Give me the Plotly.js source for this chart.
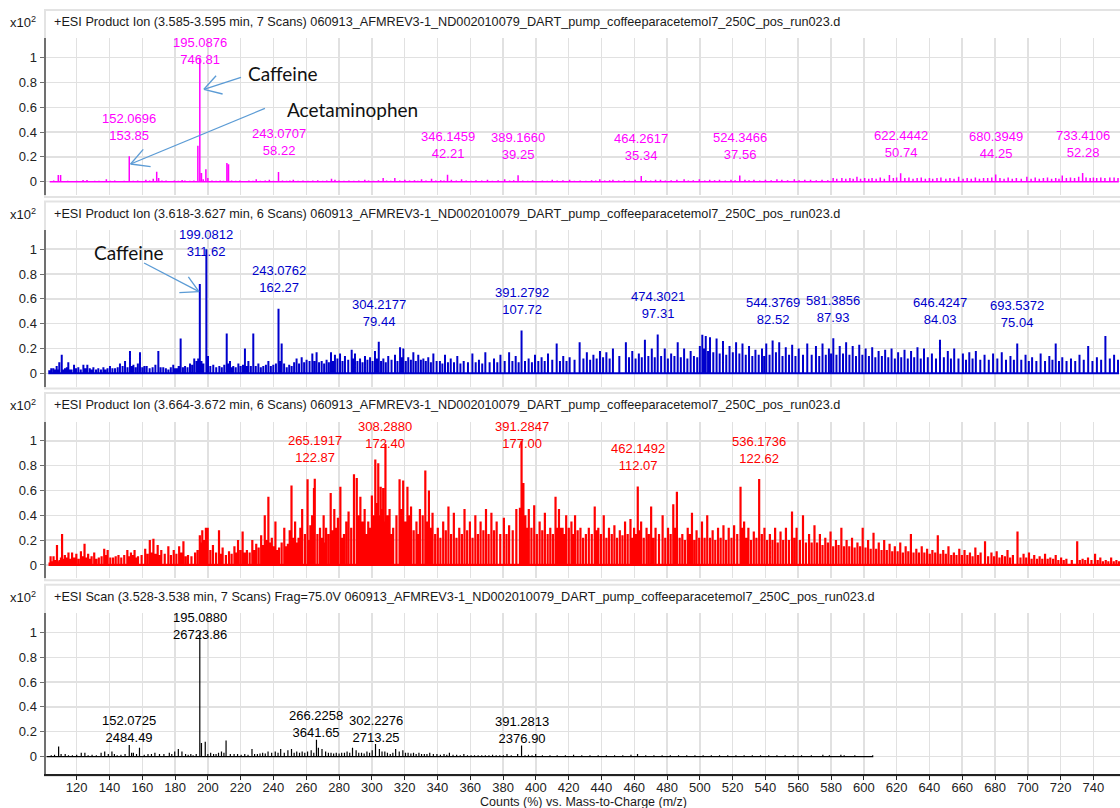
<!DOCTYPE html>
<html><head><meta charset="utf-8">
<script src="https://cdn.plot.ly/plotly-3.0.1.min.js"></script>
<style>html,body{margin:0;padding:0;background:#fff}#chart{width:1120px;height:808px}</style>
</head><body><div id="chart"></div>
<script>
// ---------------- DATA ----------------
const panelTitles = [
  "+ESI Product Ion (3.585-3.595 min, 7 Scans) 060913_AFMREV3-1_ND002010079_DART_pump_coffeeparacetemol7_250C_pos_run023.d",
  "+ESI Product Ion (3.618-3.627 min, 6 Scans) 060913_AFMREV3-1_ND002010079_DART_pump_coffeeparacetemol7_250C_pos_run023.d",
  "+ESI Product Ion (3.664-3.672 min, 6 Scans) 060913_AFMREV3-1_ND002010079_DART_pump_coffeeparacetemol7_250C_pos_run023.d",
  "+ESI Scan (3.528-3.538 min, 7 Scans) Frag=75.0V 060913_AFMREV3-1_ND002010079_DART_pump_coffeeparacetemol7_250C_pos_run023.d"
];
const yTickVals = [0, 0.2, 0.4, 0.6, 0.8, 1];
const yTickText = ["0", "0.2", "0.4", "0.6", "0.8", "1"];
const xAxisTitle = "Counts (%) vs. Mass-to-Charge (m/z)";
const scaleLabel = "x10<sup>2</sup>";

// peaks: [m/z, relative counts (x10^2 %)]
const p1Peaks = [[104.0,.005],[106.0,.01],[108.8,.054],[110.2,.054],[112.0,.005],[114.5,.008],[117.0,.005],[120.0,.008],[123.9,.013],[126.3,.013],[129.0,.005],[131.0,.008],[133.6,.008],[136.0,.005],[138.1,.02],[140.5,.008],[143.2,.01],[146.0,.005],[149.0,.008],[152.0696,.206],[154.5,.008],[157.2,.01],[159.5,.006],[162.2,.015],[164.5,.01],[166.7,.025],[168.8,.08],[170.0,.03],[172.0,.01],[174.5,.01],[177.0,.006],[179.6,.01],[182.0,.008],[184.3,.013],[186.0,.01],[189.0,.008],[191.5,.01],[193.9,.29],[195.0876,1.0],[196.1,.07],[197.2,.02],[198.8,.1],[200.0,.03],[202.5,.01],[205.0,.008],[207.5,.01],[209.5,.008],[211.6,.15],[212.6,.14],[214.5,.01],[217.0,.008],[219.5,.01],[222.0,.006],[225.0,.01],[227.5,.008],[229.5,.02],[232.0,.008],[235.0,.01],[237.5,.015],[240.0,.008],[243.0707,.078],[245.5,.01],[248.0,.008],[250.0,.01],[252.1,.015],[255.0,.008],[258.0,.01],[261.0,.008],[264.0,.01],[267.0,.012],[270.0,.008],[272.5,.01],[275.4,.025],[277.5,.015],[280.0,.01],[283.0,.008],[286.0,.01],[289.0,.008],[292.0,.01],[295.7,.015],[298.0,.01],[301.0,.008],[304.0,.012],[306.9,.03],[309.0,.01],[311.5,.008],[314.0,.03],[317.0,.01],[320.1,.015],[323.0,.01],[326.0,.012],[328.0,.008],[330.3,.02],[333.0,.01],[336.4,.025],[339.0,.01],[342.0,.012],[344.0,.01],[346.1459,.057],[348.5,.015],[351.5,.01],[354.7,.02],[357.5,.01],[360.5,.008],[363.5,.012],[367.0,.01],[370.5,.015],[373.5,.008],[377.0,.012],[381.0,.02],[384.0,.01],[386.5,.012],[389.1660,.053],[392.0,.01],[395.0,.008],[398.0,.012],[401.0,.006],[404.0,.01],[407.0,.008],[410.0,.015],[413.0,.01],[416.5,.012],[420.6,.015],[423.5,.008],[427.0,.01],[430.5,.008],[434.0,.012],[436.5,.01],[439.0,.02],[442.0,.01],[445.0,.012],[447.0,.015],[450.5,.01],[454.0,.012],[457.0,.008],[460.5,.015],[464.2617,.047],[467.0,.012],[470.0,.01],[473.0,.015],[476.0,.015],[479.0,.01],[482.5,.012],[486.0,.015],[490.4,.02],[493.0,.01],[496.0,.012],[499.7,.02],[503.0,.01],[506.0,.015],[509.0,.012],[512.0,.015],[515.5,.01],[519.0,.015],[521.5,.012],[524.3466,.05],[527.5,.015],[530.0,.012],[533.0,.015],[536.5,.01],[540.0,.015],[543.5,.012],[547.0,.02],[550.0,.015],[553.5,.012],[557.6,.02],[560.5,.012],[564.0,.015],[567.5,.015],[571.0,.012],[574.5,.015],[578.0,.012],[581.3,.03],[583.5,.025],[586.6,.03],[589.0,.025],[591.5,.03],[593.5,.025],[595.8,.04],[598.0,.025],[600.5,.03],[603.0,.025],[605.0,.03],[607.5,.025],[610.0,.035],[612.5,.025],[615.6,.055],[618.0,.03],[620.0,.035],[622.4442,.068],[625.0,.03],[627.5,.035],[630.0,.025],[632.5,.03],[635.0,.035],[637.5,.025],[640.0,.03],[642.0,.025],[644.6,.03],[647.0,.035],[650.0,.025],[652.5,.03],[655.0,.025],[657.8,.04],[660.5,.025],[663.0,.03],[665.5,.025],[668.0,.035],[670.5,.025],[673.0,.03],[675.5,.03],[678.0,.035],[680.3949,.059],[683.0,.03],[685.5,.025],[688.0,.035],[690.5,.025],[693.0,.03],[696.0,.025],[699.4,.04],[702.0,.025],[704.5,.035],[707.0,.025],[709.5,.03],[712.0,.035],[714.5,.025],[717.0,.03],[719.0,.025],[721.0,.05],[723.5,.03],[726.0,.035],[728.5,.03],[731.0,.04],[733.4106,.07],[735.5,.035],[738.0,.03],[740.0,.035],[742.0,.03],[744.5,.035],[747.0,.03],[750.0,.035],[752.6,.035],[755.0,.03]];

const p2Peaks = [[103.3,.025],[104.5,.04],[105.8,.04],[106.8,.03],[107.8,.06],[108.6,.03],[109.4,.09],[110.9,.15],[112.0,.03],[112.9,.04],[114.0,.05],[114.9,.09],[116.0,.03],[116.9,.03],[118.4,.07],[119.6,.04],[121.0,.05],[122.5,.03],[124.1,.07],[125.3,.04],[126.5,.07],[128.0,.04],[129.2,.03],[130.2,.05],[131.8,.03],[133.2,.04],[134.8,.03],[136.3,.05],[137.5,.03],[138.8,.04],[140.3,.06],[141.8,.04],[143.4,.04],[145.0,.05],[146.4,.08],[148.0,.06],[149.5,.10],[151.0,.05],[152.5,.18],[153.6,.06],[154.6,.07],[156.0,.05],[157.3,.08],[158.6,.17],[160.0,.05],[161.3,.06],[162.7,.06],[164.5,.04],[166.3,.05],[168.0,.07],[169.8,.18],[171.2,.05],[172.8,.05],[174.4,.04],[175.9,.03],[177.4,.05],[178.9,.07],[180.0,.04],[181.0,.04],[182.2,.06],[183.4,.28],[184.8,.05],[186.1,.06],[187.6,.05],[189.1,.08],[190.4,.07],[191.7,.12],[193.1,.10],[194.1,.12],[195.09,.72],[196.1,.10],[197.3,.08],[199.0812,1.0],[200.1,.14],[201.5,.06],[203.3,.07],[205.1,.05],[207.0,.06],[208.5,.05],[210.0,.07],[211.5,.32],[212.5,.08],[213.5,.10],[214.5,.05],[215.5,.06],[217.0,.05],[218.6,.08],[220.0,.06],[221.4,.07],[222.6,.20],[223.6,.06],[224.7,.10],[226.2,.06],[227.7,.32],[229.2,.06],[230.8,.08],[232.3,.05],[233.8,.06],[235.4,.07],[236.9,.10],[238.4,.06],[239.9,.07],[241.5,.08],[243.0762,.52],[244.0,.10],[245.0,.24],[246.5,.08],[248.1,.05],[249.6,.07],[251.1,.06],[252.6,.09],[254.1,.12],[255.6,.08],[257.2,.13],[258.7,.09],[260.2,.11],[262.0,.10],[263.7,.16],[265.0,.10],[266.3,.17],[267.8,.09],[269.4,.10],[270.9,.08],[272.4,.11],[273.8,.09],[275.1,.17],[276.3,.10],[277.5,.15],[279.0,.12],[280.6,.16],[282.1,.10],[283.6,.14],[285.6,.11],[287.7,.19],[288.7,.12],[289.7,.16],[291.2,.10],[292.8,.12],[294.3,.09],[295.8,.14],[297.3,.11],[298.9,.13],[300.4,.10],[301.9,.18],[303.0,.12],[304.2177,.255],[305.6,.10],[307.0,.12],[308.5,.09],[310.0,.14],[312.0,.11],[314.1,.15],[315.6,.10],[317.2,.21],[318.2,.13],[319.2,.20],[320.7,.10],[322.2,.13],[323.8,.11],[325.3,.17],[326.8,.10],[328.3,.15],[329.9,.11],[331.4,.12],[332.9,.10],[334.4,.13],[336.0,.09],[337.5,.16],[339.5,.10],[341.5,.10],[343.0,.08],[344.6,.15],[346.4,.09],[348.1,.12],[350.1,.09],[352.1,.14],[354.0,.08],[356.0,.10],[358.6,.09],[361.3,.16],[363.3,.09],[365.3,.11],[367.3,.08],[369.2,.17],[371.8,.09],[374.5,.12],[376.5,.09],[378.4,.15],[381.0,.10],[383.7,.17],[385.7,.10],[387.7,.14],[389.5,.09],[391.2792,.346],[393.4,.10],[395.6,.12],[397.6,.09],[399.5,.15],[401.5,.10],[403.5,.13],[405.4,.10],[407.4,.16],[410.0,.11],[412.7,.24],[414.7,.10],[416.7,.14],[418.7,.10],[420.6,.13],[423.6,.11],[426.7,.25],[429.0,.12],[431.1,.17],[433.1,.11],[435.1,.15],[437.1,.12],[439.1,.18],[441.0,.13],[443.0,.17],[445.0,.12],[447.0,.20],[450.9,.14],[454.9,.25],[456.8,.13],[458.8,.18],[460.8,.12],[462.8,.16],[464.6,.13],[466.5,.27],[468.6,.14],[470.7,.20],[472.5,.13],[474.3021,.312],[476.4,.14],[478.6,.20],[480.5,.12],[482.5,.16],[484.5,.14],[486.5,.25],[488.4,.13],[490.4,.20],[492.4,.12],[494.4,.18],[496.4,.14],[498.4,.13],[500.0,.22],[501.5,.31],[502.6,.20],[503.6,.30],[505.0,.18],[506.2,.29],[508.2,.17],[510.2,.28],[512.1,.16],[514.1,.26],[516.1,.15],[518.1,.22],[520.1,.17],[522.1,.25],[524.1,.16],[526.0,.24],[528.0,.15],[530.0,.22],[532.0,.14],[533.9,.19],[535.9,.15],[537.9,.20],[539.2,.14],[540.5,.24],[542.5,.15],[544.3769,.265],[546.4,.17],[548.4,.25],[550.4,.14],[552.4,.21],[554.4,.15],[556.3,.23],[558.3,.14],[560.3,.20],[562.9,.15],[565.5,.24],[568.2,.15],[570.8,.22],[572.8,.14],[574.8,.24],[576.8,.15],[578.7,.20],[580.0,.16],[581.3856,.282],[583.3,.15],[585.3,.22],[587.3,.16],[589.2,.25],[591.2,.15],[593.2,.22],[595.2,.14],[597.2,.23],[599.1,.15],[601.1,.20],[603.1,.14],[605.1,.21],[607.0,.13],[609.0,.18],[611.0,.14],[613.0,.19],[614.9,.13],[616.9,.20],[618.9,.12],[620.9,.17],[622.8,.13],[624.8,.19],[626.8,.12],[628.8,.18],[630.7,.13],[632.7,.21],[634.7,.12],[636.7,.20],[639.0,.13],[641.5,.16],[644.0,.12],[646.4247,.27],[648.8,.13],[651.2,.18],[653.1,.12],[655.1,.20],[657.7,.12],[660.4,.16],[662.3,.11],[664.3,.17],[666.3,.12],[668.3,.18],[671.0,.11],[673.6,.15],[676.2,.11],[678.8,.16],[681.4,.12],[684.1,.17],[686.7,.11],[689.4,.14],[691.5,.11],[693.5372,.241],[696.0,.11],[698.6,.15],[700.6,.10],[702.6,.13],[705.2,.10],[707.8,.16],[710.5,.10],[713.1,.14],[715.0,.11],[717.0,.24],[719.0,.10],[721.0,.13],[723.6,.10],[726.3,.12],[728.9,.10],[731.5,.15],[734.1,.11],[736.8,.22],[739.4,.10],[742.1,.13],[744.7,.11],[747.3,.30],[750.0,.12],[752.6,.15],[755.0,.11]];

const p3Peaks = [[103.5,.02],[104.1,.07],[105.0,.03],[105.9,.07],[107.0,.04],[108.0,.16],[109.0,.03],[109.6,.04],[110.4,.06],[111.1,.25],[112.0,.05],[112.8,.08],[114.0,.06],[115.0,.10],[116.2,.05],[117.2,.10],[118.5,.06],[119.8,.09],[121.2,.05],[122.6,.11],[123.7,.07],[124.8,.17],[126.0,.06],[127.0,.09],[128.1,.05],[129.1,.07],[130.7,.10],[132.0,.05],[133.5,.06],[135.2,.07],[136.8,.13],[137.8,.08],[138.9,.12],[140.5,.06],[142.2,.06],[143.8,.07],[145.5,.08],[147.2,.06],[149.0,.08],[150.9,.12],[152.0,.07],[153.1,.10],[154.2,.08],[155.3,.12],[156.4,.06],[157.4,.07],[159.6,.08],[161.8,.13],[163.2,.09],[164.6,.20],[165.7,.10],[166.8,.21],[168.1,.09],[169.4,.16],[170.5,.08],[171.6,.12],[173.7,.09],[175.9,.15],[177.5,.08],[179.2,.12],[180.8,.09],[182.5,.15],[183.8,.10],[185.1,.19],[186.5,.07],[187.9,.08],[190.0,.07],[192.2,.10],[193.7,.12],[195.1,.24],[196.0,.18],[196.6,.28],[197.7,.20],[198.8,.30],[199.9,.30],[201.5,.12],[203.1,.16],[205.0,.10],[206.8,.28],[208.0,.09],[209.0,.14],[211.0,.08],[212.9,.11],[214.5,.09],[216.2,.15],[217.3,.10],[218.4,.20],[219.8,.12],[221.2,.27],[222.5,.10],[223.8,.12],[225.5,.10],[227.1,.20],[228.3,.12],[229.5,.17],[231.0,.14],[232.5,.24],[233.6,.16],[234.7,.40],[235.8,.20],[236.9,.55],[238.0,.18],[239.0,.22],[240.1,.15],[241.2,.35],[242.3,.12],[243.4,.14],[245.0,.18],[246.6,.30],[247.7,.15],[248.8,.17],[249.9,.28],[251.0,.64],[252.1,.22],[253.2,.35],[254.3,.18],[255.3,.22],[256.4,.30],[257.5,.45],[259.2,.25],[260.8,.69],[261.6,.20],[262.5,.32],[263.6,.40],[264.7,.62],[265.1917,.694],[266.8,.25],[268.4,.30],[269.5,.22],[270.6,.40],[271.4,.18],[272.1,.30],[273.5,.25],[274.9,.58],[276.0,.28],[277.1,.45],[278.2,.30],[279.3,.38],[280.8,.63],[281.9,.22],[283.0,.25],[284.4,.35],[285.8,.43],[287.4,.30],[289.1,.73],[290.8,.70],[291.9,.40],[293.0,.55],[294.3,.35],[295.6,.45],[296.7,.25],[297.8,.35],[298.9,.30],[300.0,.56],[301.0,.40],[302.1,.85],[303.0,.50],[303.9,.82],[304.6,.40],[305.4,.63],[306.1,.45],[306.9,.62],[307.6,.35],[308.2880,.974],[309.5,.40],[310.8,.45],[311.9,.25],[313.0,.30],[315.0,.40],[316.9,.69],[318.0,.45],[319.1,.68],[320.4,.35],[321.7,.63],[322.8,.40],[323.9,.47],[325.5,.28],[327.2,.35],[328.2,.25],[329.3,.45],[331.0,.40],[332.6,.76],[333.7,.35],[334.8,.60],[335.9,.30],[337.0,.42],[338.6,.25],[340.2,.30],[341.8,.22],[343.5,.35],[345.1,.28],[346.7,.47],[348.3,.25],[350.0,.42],[351.6,.22],[353.3,.30],[354.9,.25],[356.5,.45],[358.1,.28],[359.8,.35],[361.4,.22],[363.1,.40],[364.7,.25],[366.3,.35],[368.0,.28],[369.6,.45],[371.2,.25],[372.9,.42],[374.5,.28],[376.1,.35],[378.3,.25],[380.5,.38],[382.1,.25],[383.7,.32],[385.9,.28],[388.1,.45],[390.3,.46],[391.2847,1.0],[392.4,.66],[393.6,.40],[394.7,.30],[395.7,.45],[397.3,.30],[399.0,.48],[400.6,.25],[402.3,.35],[403.9,.28],[405.5,.42],[407.2,.25],[408.8,.30],[410.4,.25],[412.0,.55],[413.1,.30],[414.1,.45],[415.2,.30],[416.3,.30],[417.4,.25],[418.5,.40],[420.1,.30],[421.7,.35],[422.8,.25],[423.9,.40],[425.5,.28],[427.2,.30],[428.8,.22],[430.5,.25],[432.3,.30],[434.1,.25],[435.9,.47],[437.0,.28],[438.1,.30],[439.7,.25],[441.4,.40],[443.0,.22],[444.6,.30],[446.3,.25],[447.9,.32],[449.5,.22],[451.2,.28],[452.8,.24],[454.4,.35],[456.0,.25],[457.7,.37],[458.8,.22],[459.9,.30],[461.0,.25],[462.1492,.633],[463.2,.28],[464.2,.35],[465.8,.22],[467.5,.30],[468.9,.25],[470.3,.47],[471.6,.22],[473.0,.30],[475.1,.25],[477.3,.40],[478.9,.22],[480.6,.30],[482.2,.25],[483.8,.49],[484.9,.30],[486.0,.59],[487.7,.22],[489.3,.25],[490.9,.20],[492.6,.30],[493.9,.25],[495.2,.42],[496.6,.20],[498.0,.28],[499.6,.22],[501.3,.35],[502.9,.22],[504.5,.40],[506.2,.22],[507.8,.28],[509.4,.20],[511.1,.30],[512.7,.22],[514.4,.32],[516.0,.20],[517.6,.30],[519.3,.22],[520.9,.32],[522.8,.25],[524.8,.63],[525.9,.30],[527.0,.35],[528.3,.22],[529.6,.30],[531.2,.20],[532.9,.27],[534.5,.22],[536.1736,.693],[537.8,.25],[539.4,.30],[541.0,.20],[542.7,.25],[544.3,.20],[545.9,.30],[547.5,.18],[549.2,.27],[550.8,.20],[552.5,.30],[554.3,.20],[556.2,.43],[557.6,.22],[559.0,.30],[561.0,.20],[562.9,.40],[564.7,.18],[566.6,.25],[568.2,.18],[569.9,.32],[571.5,.18],[573.2,.25],[574.8,.16],[576.5,.22],[578.1,.18],[579.7,.27],[581.3,.15],[583.0,.20],[584.6,.16],[586.3,.30],[587.9,.15],[589.5,.20],[591.1,.15],[592.8,.22],[594.4,.14],[596.1,.18],[597.7,.15],[599.3,.30],[601.0,.14],[602.6,.20],[604.2,.13],[605.9,.26],[607.5,.13],[609.1,.18],[610.8,.12],[612.4,.20],[614.0,.12],[615.7,.17],[617.3,.11],[618.9,.15],[620.6,.11],[622.2,.18],[623.8,.10],[625.5,.15],[627.1,.11],[628.7,.25],[630.3,.10],[632.0,.13],[633.6,.10],[635.3,.15],[636.9,.10],[638.6,.13],[640.2,.09],[641.8,.12],[643.5,.10],[645.1,.24],[646.7,.09],[648.4,.12],[650.0,.09],[651.6,.15],[653.3,.08],[654.9,.10],[656.5,.08],[658.2,.13],[659.8,.08],[661.4,.12],[663.1,.08],[664.7,.10],[666.3,.07],[668.0,.14],[669.6,.08],[671.2,.10],[673.9,.19],[675.8,.07],[677.8,.10],[679.4,.07],[681.0,.11],[682.7,.06],[684.3,.08],[686.0,.07],[687.6,.12],[689.2,.06],[690.9,.08],[693.7,.27],[695.5,.06],[697.4,.09],[699.0,.06],[700.7,.10],[702.3,.05],[703.9,.08],[705.6,.05],[707.2,.07],[708.8,.05],[710.5,.09],[712.1,.05],[713.7,.06],[715.4,.05],[717.0,.08],[718.6,.04],[720.3,.06],[721.9,.04],[723.5,.05],[726.8,.04],[730.1,.19],[731.7,.04],[733.4,.05],[735.0,.04],[736.7,.06],[738.8,.04],[741.0,.09],[742.6,.04],[744.2,.06],[745.8,.03],[747.5,.04],[749.1,.03],[750.8,.06],[752.4,.03],[754.0,.04],[755.6,.03]];

const p4Peaks = [[102.0,.005],[104.5,.01],[106.5,.015],[109.0,.08],[110.5,.02],[113.0,.02],[115.0,.01],[117.4,.01],[120.0,.015],[122.8,.03],[125.0,.03],[127.0,.01],[129.4,.015],[132.0,.01],[134.9,.03],[137.1,.04],[139.3,.02],[141.5,.04],[143.0,.02],[144.7,.01],[147.0,.015],[149.5,.02],[152.0725,.093],[153.5,.03],[154.6,.03],[156.5,.02],[158.3,.07],[161.2,.015],[163.5,.02],[165.6,.02],[167.7,.03],[170.5,.02],[173.2,.02],[176.5,.03],[178.0,.02],[179.8,.04],[182.0,.06],[184.2,.04],[186.4,.02],[188.0,.015],[189.6,.02],[191.0,.01],[192.9,.02],[195.0880,1.0],[196.1,.11],[198.4,.12],[200.0,.02],[201.7,.03],[203.5,.02],[205.0,.02],[206.5,.03],[208.3,.04],[209.8,.03],[211.1,.13],[213.7,.02],[216.0,.02],[218.1,.02],[220.3,.015],[222.5,.02],[224.5,.015],[226.9,.06],[228.5,.02],[230.2,.02],[231.8,.025],[233.4,.03],[235.0,.025],[236.7,.04],[238.9,.03],[241.1,.04],[242.8,.03],[244.4,.06],[246.6,.03],[248.8,.05],[251.0,.06],[252.6,.03],[254.2,.04],[255.9,.03],[257.5,.04],[259.1,.03],[260.8,.04],[263.0,.05],[264.6,.03],[266.2258,.136],[267.4,.07],[269.6,.06],[271.8,.04],[273.5,.03],[275.1,.03],[276.7,.025],[278.3,.03],[280.0,.025],[281.6,.03],[283.3,.03],[284.9,.04],[286.5,.03],[288.2,.07],[290.4,.05],[292.0,.03],[293.7,.03],[295.3,.025],[297.0,.04],[298.6,.03],[300.2,.05],[302.2276,.1015],[304.6,.06],[306.2,.04],[307.9,.04],[309.5,.03],[311.2,.02],[312.8,.03],[314.5,.06],[316.7,.04],[318.9,.05],[320.5,.03],[322.1,.03],[323.8,.025],[325.4,.03],[327.0,.02],[328.7,.03],[330.3,.02],[332.0,.02],[333.6,.02],[335.3,.03],[337.5,.02],[339.7,.02],[341.8,.015],[344.0,.02],[345.7,.015],[347.3,.03],[349.5,.015],[351.7,.015],[353.9,.01],[356.1,.02],[358.3,.01],[360.5,.01],[362.6,.01],[364.8,.01],[367.0,.01],[369.2,.01],[371.4,.01],[373.6,.015],[375.8,.01],[378.0,.01],[380.2,.01],[382.4,.02],[385.0,.01],[388.9,.02],[391.2813,.089],[393.4,.01],[395.5,.015],[397.7,.01],[399.9,.02],[404.0,.01],[408.6,.01],[413.0,.01],[418.0,.01],[423.0,.015],[428.0,.01],[433.0,.01],[438.0,.01],[443.0,.01],[448.0,.01],[453.0,.01],[458.0,.015],[462.0,.02],[467.0,.01],[472.0,.01],[477.0,.01],[482.0,.01],[487.0,.01],[492.0,.01],[497.0,.01],[502.0,.01],[507.0,.01],[512.0,.01],[517.0,.01],[522.0,.01],[527.0,.01],[532.0,.01],[537.0,.01],[542.0,.01],[547.0,.01],[552.0,.01],[557.0,.01],[562.0,.01],[568.0,.01],[575.0,.015],[579.0,.01],[586.0,.015],[588.0,.01],[594.5,.01],[605.4,.01]];

// labelled peaks: m/z and absolute counts
const p1LabelMz = [152.0696, 195.0876, 243.0707, 346.1459, 389.1660, 464.2617, 524.3466, 622.4442, 680.3949, 733.4106];
const p1LabelCounts = [153.85, 746.81, 58.22, 42.21, 39.25, 35.34, 37.56, 50.74, 44.25, 52.28];
const p2LabelMz = [199.0812, 243.0762, 304.2177, 391.2792, 474.3021, 544.3769, 581.3856, 646.4247, 693.5372];
const p2LabelCounts = [311.62, 162.27, 79.44, 107.72, 97.31, 82.52, 87.93, 84.03, 75.04];
const p3LabelMz = [265.1917, 308.2880, 391.2847, 462.1492, 536.1736];
const p3LabelCounts = [122.87, 172.40, 177.00, 112.07, 122.62];
const p4LabelMz = [152.0725, 195.0880, 266.2258, 302.2276, 391.2813];
const p4LabelCounts = [2484.49, 26723.86, 3641.65, 2713.25, 2376.90];

const compoundNotes = ["Caffeine", "Acetaminophen", "Caffeine"];

// ---------------- PRESENTATION ----------------
const W = 1120, H = 808, LEFT = 46;
const PXU = 124.1;                      // pixels per 1.0 unit
const topPx = [38.4, 230.0, 421.6, 613.2];
const yBottom = [-0.107, -0.107, -0.107, -0.141];
const yTop = 1.155;
const colors = ['#ff00ff', '#0000cc', '#ff0000', '#000000'];
const lineW = [1.5, 2.0, 2.2, 1.2];
const labelY = [
  [0.44, 1.057, 0.32, 0.30, 0.29, 0.28, 0.285, 0.305, 0.296, 0.305],
  [1.052, 0.758, 0.49, 0.58, 0.548, 0.50, 0.518, 0.503, 0.478],
  [0.931, 1.051, 1.051, 0.87, 0.93],
  [0.22, 1.048, 0.264, 0.224, 0.214]
];
const FONT = 'Liberation Sans, Arial, Helvetica, sans-serif';
const py = p => 1 - p / H;
const px = p => (p - LEFT) / (W - LEFT);

const peaksAll = [p1Peaks, p2Peaks, p3Peaks, p4Peaks];
const labelMzAll = [p1LabelMz, p2LabelMz, p3LabelMz, p4LabelMz];
const labelCountsAll = [p1LabelCounts, p2LabelCounts, p3LabelCounts, p4LabelCounts];

const traces = [];
const layout = {
  width: W, height: H,
  margin: {l: LEFT, r: 0, t: 0, b: 0},
  paper_bgcolor: '#ffffff', plot_bgcolor: 'rgba(0,0,0,0)',
  showlegend: false,
  font: {family: FONT, size: 13, color: '#222'},
  annotations: [], shapes: []
};

for (let k = 0; k < 4; k++) {
  const sx = k === 0 ? '' : String(k + 1);
  const xs = [], ys = [];
  peaksAll[k].forEach(p => { xs.push(p[0], p[0], p[0]); ys.push(0, p[1], 0); });
  traces.push({type: 'scatter', mode: 'lines', x: xs, y: ys, xaxis: 'x' + sx, yaxis: 'y' + sx,
    line: {color: colors[k], width: lineW[k]}, hoverinfo: 'skip'});

  const bottomPx = topPx[k] + (yTop - yBottom[k]) * PXU;
  const isLast = k === 3;
  layout['xaxis' + sx] = {
    domain: [0, 1], anchor: 'y' + sx, range: [101.3, 756.2], tick0: 0, dtick: 20,
    showgrid: true, gridcolor: '#e1e1e1', gridwidth: 1.5, zeroline: false,
    showticklabels: isLast, ticks: isLast ? 'outside' : '', ticklen: 4, tickcolor: '#222',
    ticklabelstandoff: isLast ? -3 : 0,
    showline: isLast, linecolor: '#222', linewidth: 1.5,
    tickfont: {family: FONT, size: 13, color: '#222'}, fixedrange: true
  };
  if (k > 0) layout['xaxis' + sx].matches = 'x';
  layout['yaxis' + sx] = {
    domain: [py(bottomPx), py(topPx[k])], anchor: 'x' + sx, range: [yBottom[k], yTop],
    tickvals: yTickVals, ticktext: yTickText, showgrid: true, gridcolor: '#e1e1e1', gridwidth: 1.5,
    zeroline: false, showline: true, linecolor: '#707070', linewidth: 2.5,
    ticks: 'outside', ticklen: 4, tickcolor: '#707070',
    tickfont: {family: FONT, size: 13, color: '#222'}, fixedrange: true
  };

  // panel frame
  layout.shapes.push({type: 'rect', xref: 'paper', yref: 'paper', layer: 'below',
    x0: px(45), x1: px(1123), y0: py(bottomPx + 2), y1: py(topPx[k] - 28.5),
    line: {color: '#e3e3e3', width: 2}, fillcolor: '#ffffff'});

  // panel title and scale
  const ty = py(topPx[k] - 16.4);
  layout.annotations.push({xref: 'paper', yref: 'paper', x: px(52), y: ty, xanchor: 'left', yanchor: 'middle',
    text: panelTitles[k], showarrow: false, font: {family: FONT, size: 12.7, color: '#1a1a1a'}});
  layout.annotations.push({xref: 'paper', yref: 'paper', x: px(8), y: ty, xanchor: 'left', yanchor: 'middle',
    text: scaleLabel, showarrow: false, font: {family: FONT, size: 13, color: '#1a1a1a'}});

  // peak labels
  labelMzAll[k].forEach((m, i) => {
    layout.annotations.push({xref: 'x' + sx, yref: 'y' + sx, x: m, y: labelY[k][i],
      xanchor: 'center', yanchor: 'middle', showarrow: false, align: 'center',
      text: m.toFixed(4) + '<br>' + labelCountsAll[k][i].toFixed(2),
      font: {family: FONT, size: 13, color: colors[k]}});
  });
}

// x axis title
layout.annotations.push({xref: 'paper', yref: 'paper', x: 0.5, y: py(802), xanchor: 'center', yanchor: 'middle',
  text: xAxisTitle, showarrow: false, font: {family: FONT, size: 12.5, color: '#1a1a1a'}});

// compound notes with arrows
const noteFont = {family: 'Lato, Open Sans, sans-serif', size: 19, color: '#111'};
const notes = [
  {ax: '', x: 245.8, y: 0.876},
  {ax: '', x: 287.9, y: 0.586},
  {ax: '2', x: 151.7, y: 0.975}
];
notes.forEach((n, i) => layout.annotations.push({xref: 'x' + n.ax, yref: 'y' + n.ax, x: n.x, y: n.y,
  xanchor: 'center', yanchor: 'middle', showarrow: false, text: compoundNotes[i], font: noteFont}));

const arrows = [
  {ax: '', tail: [220.2, 0.841], tip: [197.6, 0.745], h1: [205.0, 0.854], h2: [209.0, 0.707]},
  {ax: '', tail: [234.8, 0.591], tip: [152.9, 0.143], h1: [160.6, 0.261], h2: [165.1, 0.121]},
  {ax: '2', tail: [161.1, 0.889], tip: [194.6, 0.658], h1: [188.1, 0.778], h2: [182.6, 0.650]}
];
arrows.forEach(a => {
  [a.tail, a.h1, a.h2].forEach(s => layout.shapes.push({type: 'line', xref: 'x' + a.ax, yref: 'y' + a.ax,
    x0: s[0], y0: s[1], x1: a.tip[0], y1: a.tip[1], line: {color: '#5b9bd5', width: 1.3}}));
});

Plotly.newPlot('chart', traces, layout, {staticPlot: true, displayModeBar: false});
</script>
</body></html>
